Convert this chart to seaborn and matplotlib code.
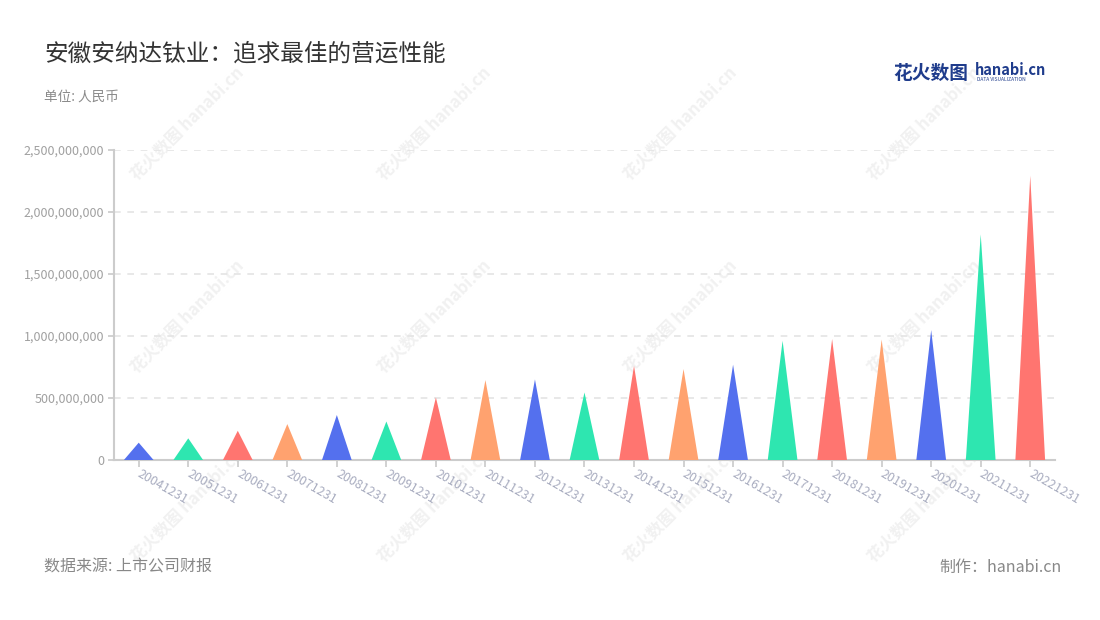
import matplotlib
matplotlib.use('Agg')
import matplotlib.pyplot as plt
from matplotlib.ticker import FuncFormatter
import seaborn as sns

# data
dates = ['20041231', '20051231', '20061231', '20071231', '20081231', '20091231',
         '20101231', '20111231', '20121231', '20131231', '20141231', '20151231',
         '20161231', '20171231', '20181231', '20191231', '20201231', '20211231',
         '20221231']
revenue = [140e6, 175e6, 236e6, 290e6, 363e6, 311e6,
           505e6, 645e6, 650e6, 545e6, 760e6, 734e6,
           769e6, 962e6, 976e6, 972e6, 1048e6, 1820e6,
           2293e6]
colors = ['#5470ee', '#2ee6b0', '#ff7570', '#ffa26f']

sns.set_theme(style='white')
plt.rcParams['font.family'] = ['Noto Sans CJK SC', 'DejaVu Sans']

fig = plt.figure(figsize=(11, 6.2), dpi=100)
ax = fig.add_axes([0.1036, 0.258, 0.8555, 0.5])
ax.set_zorder(2)

# watermark, behind the axes
for wx in [0.17, 0.395, 0.618, 0.84]:
    for wy in [0.80, 0.49, 0.185]:
        fig.text(wx, wy, '花火数图 hanabi.cn', rotation=45, fontsize=12,
                 color='#f1f1f1', ha='center', va='center', fontweight='bold', zorder=0)

# bars -> triangles
palette = [colors[i % 4] for i in range(len(dates))]
sns.barplot(x=dates, y=revenue, hue=dates, palette=palette, width=0.6,
            legend=False, ax=ax)
for i, p in enumerate(list(ax.patches)):
    x0, w, h = p.get_x(), p.get_width(), p.get_height()
    ax.fill([x0, x0 + w / 2, x0 + w], [0, h, 0], color=palette[i], lw=0, zorder=3)
    p.set_visible(False)

ax.set_ylim(0, 2.5e9)
ax.set_xlim(-0.5, len(dates) - 0.5)
ax.set_yticks([i * 5e8 for i in range(6)])
ax.yaxis.set_major_formatter(FuncFormatter(lambda v, _: f'{int(v):,}'))
ax.grid(axis='y', color='#e4e4e4', linestyle=(0, (4, 4)), linewidth=1.2)
ax.set_axisbelow(True)
for s in ['top', 'right']:
    ax.spines[s].set_visible(False)
for s in ['left', 'bottom']:
    ax.spines[s].set_color('#cccccc')
    ax.spines[s].set_linewidth(1.5)
ax.tick_params(axis='y', left=True, length=4, color='#cccccc', labelsize=9,
               labelcolor='#a0a0a0', pad=3)
ax.tick_params(axis='x', bottom=True, length=5, color='#cccccc', labelsize=9,
               labelcolor='#a9adc0', pad=4)
for lab in ax.get_xticklabels():
    lab.set_rotation(-30)
    lab.set_ha('left')
    lab.set_va('center')
    lab.set_rotation_mode('anchor')
ax.set_xlabel('')
ax.set_ylabel('')
ax.set_facecolor('none')

fig.text(0.04, 0.912, '安徽安纳达钛业：追求最佳的营运性能', fontsize=17,
         color='#333333', va='center')
fig.text(0.04, 0.845, '单位: 人民币', fontsize=9.8, color='#8a8a8a', va='center')
fig.text(0.04, 0.085, '数据来源: 上市公司财报', fontsize=11.5, color='#888888', va='center')
fig.text(0.965, 0.085, '制作：hanabi.cn', fontsize=11.5, color='#888888',
         va='center', ha='right')

# logo
fig.text(0.812, 0.882, '花火数图', fontsize=13.5, color='#1f3c8c',
         fontweight='bold', va='center')
fig.text(0.886, 0.887, 'hanabi.cn', fontsize=10.5, color='#1f3c8c',
         fontweight='bold', va='center')
fig.text(0.888, 0.871, 'DATA VISUALIZATION', fontsize=3.5, color='#1f3c8c',
         va='center')

fig.savefig('out.png', dpi=100)
